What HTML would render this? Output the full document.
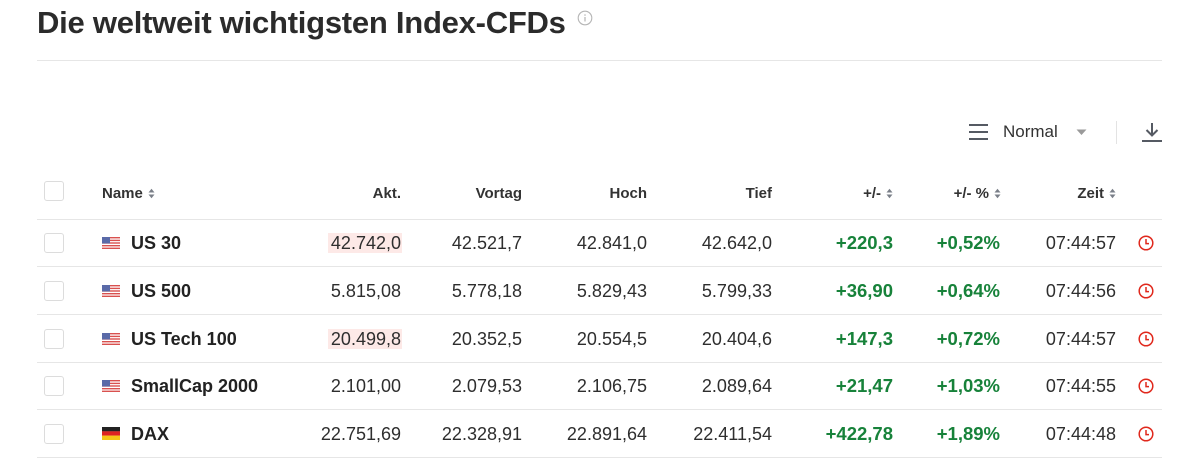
<!DOCTYPE html>
<html><head><meta charset="utf-8">
<style>
*{margin:0;padding:0;box-sizing:border-box}
html,body{width:1183px;height:459px;background:#fff;overflow:hidden;font-family:"Liberation Sans",Arial,sans-serif;color:#2a2a2a}
.a{position:absolute;white-space:nowrap}
.title{left:37px;top:5px;font-size:31px;font-weight:bold;color:#2b2b2b;letter-spacing:-0.25px;line-height:36px}
.hl{position:absolute;height:1px;background:#e6e6e6;left:37px;width:1125px}
.hdr{font-size:15px;font-weight:bold;color:#333;line-height:20px;height:20px;text-align:right}
.cell{font-size:18px;line-height:24px;height:24px;text-align:right;color:#2e2e2e}
.name{font-size:18px;font-weight:bold;line-height:24px;height:24px;left:131px;color:#222}
.g{color:#17823a;font-weight:bold;font-size:18.5px}
.cb{position:absolute;left:44px;width:20px;height:20px;border:1px solid #dcdcdc;border-radius:3px;background:#fff}
.pink{position:absolute;background:#fde9e7;height:20px}
.sort{display:inline-block;vertical-align:middle;margin-left:5px;width:7px;height:11px;position:relative;top:-1px}
</style></head><body>

<div class="a title">Die weltweit wichtigsten Index-CFDs</div>
<svg class="a" style="left:577px;top:10px" width="16" height="16" viewBox="0 0 16 16"><circle cx="8" cy="8" r="6.8" fill="none" stroke="#b5b5b5" stroke-width="1.1"/><rect x="7.4" y="7" width="1.2" height="4.5" fill="#b5b5b5"/><circle cx="8" cy="5" r="0.8" fill="#b5b5b5"/></svg>
<div class="hl" style="top:60px"></div>

<!-- toolbar -->
<svg class="a" style="left:968px;top:122px" width="21" height="20" viewBox="0 0 21 20"><rect x="1" y="2" width="19" height="2" fill="#555a63"/><rect x="1" y="9" width="19" height="2" fill="#555a63"/><rect x="1" y="16" width="19" height="2" fill="#555a63"/></svg>
<div class="a" style="left:1003px;top:120px;font-size:17px;line-height:24px;color:#333">Normal</div>
<svg class="a" style="left:1076px;top:129px" width="11" height="7" viewBox="0 0 11 7"><path d="M0.5 0.5 L10.5 0.5 L5.5 6 Z" fill="#9a9a9a"/></svg>
<div class="a" style="left:1116px;top:121px;width:1px;height:23px;background:#e3e3e3"></div>
<svg class="a" style="left:1141px;top:121px" width="22" height="22" viewBox="0 0 22 22"><path d="M11 2 V14 M5.5 9 L11 14.5 L16.5 9" fill="none" stroke="#555a63" stroke-width="2"/><rect x="1" y="19" width="20" height="2" fill="#555a63"/></svg>

<!-- header -->
<div class="cb" style="top:181px"></div>
<div class="a hdr" style="left:102px;top:184px;text-align:left">Name<svg class="sort" viewBox="0 0 7 11"><path d="M0.5 4.5 L3.5 0.8 L6.5 4.5Z M0.5 6.5 L3.5 10.2 L6.5 6.5Z" fill="#7a7f88"/></svg></div>
<div class="a hdr" style="right:782px;top:184px">Akt.</div>
<div class="a hdr" style="right:661px;top:184px">Vortag</div>
<div class="a hdr" style="right:536px;top:184px">Hoch</div>
<div class="a hdr" style="right:411px;top:184px">Tief</div>
<div class="a hdr" style="right:290px;top:184px">+/-<svg class="sort" viewBox="0 0 7 11"><path d="M0.5 4.5 L3.5 0.8 L6.5 4.5Z M0.5 6.5 L3.5 10.2 L6.5 6.5Z" fill="#7a7f88"/></svg></div>
<div class="a hdr" style="right:182px;top:184px">+/- %<svg class="sort" viewBox="0 0 7 11"><path d="M0.5 4.5 L3.5 0.8 L6.5 4.5Z M0.5 6.5 L3.5 10.2 L6.5 6.5Z" fill="#7a7f88"/></svg></div>
<div class="a hdr" style="right:67px;top:184px">Zeit<svg class="sort" viewBox="0 0 7 11"><path d="M0.5 4.5 L3.5 0.8 L6.5 4.5Z M0.5 6.5 L3.5 10.2 L6.5 6.5Z" fill="#7a7f88"/></svg></div>

<div class="hl" style="top:219px"></div>
<div class="hl" style="top:266px"></div>
<div class="hl" style="top:314px"></div>
<div class="hl" style="top:362px"></div>
<div class="hl" style="top:409px"></div>
<div class="hl" style="top:457px"></div>

<!-- highlights -->
<div class="pink" style="left:328px;top:233px;width:74px"></div>
<div class="pink" style="left:328px;top:329px;width:74px"></div>

<!-- flags -->
<svg width="0" height="0" style="position:absolute"><defs>
<g id="us"><rect width="18" height="12" fill="#fff"/><rect y="0" width="18" height="1.4" fill="#d9514f"/><rect y="2.7" width="18" height="1.4" fill="#d9514f"/><rect y="5.3" width="18" height="1.4" fill="#d9514f"/><rect y="8" width="18" height="1.4" fill="#d9514f"/><rect y="10.6" width="18" height="1.4" fill="#d9514f"/><rect width="8" height="6.5" fill="#5a6aa8"/></g>
<g id="clk"><circle cx="8" cy="8" r="6.8" fill="none" stroke="#e0281c" stroke-width="1.5"/><path d="M8 4 V8.6 H11" fill="none" stroke="#e0281c" stroke-width="1.5"/></g>
</defs></svg>

<!-- row1 center 243 -->
<div class="cb" style="top:233px"></div>
<svg class="a" style="left:102px;top:237px" width="18" height="12"><use href="#us"/></svg>
<div class="a name" style="top:231px">US 30</div>
<div class="a cell" style="right:782px;top:231px">42.742,0</div>
<div class="a cell" style="right:661px;top:231px">42.521,7</div>
<div class="a cell" style="right:536px;top:231px">42.841,0</div>
<div class="a cell" style="right:411px;top:231px">42.642,0</div>
<div class="a cell g" style="right:290px;top:231px">+220,3</div>
<div class="a cell g" style="right:183px;top:231px">+0,52%</div>
<div class="a cell" style="right:67px;top:231px">07:44:57</div>
<svg class="a" style="left:1138px;top:235px" width="16" height="16"><use href="#clk"/></svg>

<!-- row2 center 291 -->
<div class="cb" style="top:281px"></div>
<svg class="a" style="left:102px;top:285px" width="18" height="12"><use href="#us"/></svg>
<div class="a name" style="top:279px">US 500</div>
<div class="a cell" style="right:782px;top:279px">5.815,08</div>
<div class="a cell" style="right:661px;top:279px">5.778,18</div>
<div class="a cell" style="right:536px;top:279px">5.829,43</div>
<div class="a cell" style="right:411px;top:279px">5.799,33</div>
<div class="a cell g" style="right:290px;top:279px">+36,90</div>
<div class="a cell g" style="right:183px;top:279px">+0,64%</div>
<div class="a cell" style="right:67px;top:279px">07:44:56</div>
<svg class="a" style="left:1138px;top:283px" width="16" height="16"><use href="#clk"/></svg>

<!-- row3 center 339 -->
<div class="cb" style="top:329px"></div>
<svg class="a" style="left:102px;top:333px" width="18" height="12"><use href="#us"/></svg>
<div class="a name" style="top:327px">US Tech 100</div>
<div class="a cell" style="right:782px;top:327px">20.499,8</div>
<div class="a cell" style="right:661px;top:327px">20.352,5</div>
<div class="a cell" style="right:536px;top:327px">20.554,5</div>
<div class="a cell" style="right:411px;top:327px">20.404,6</div>
<div class="a cell g" style="right:290px;top:327px">+147,3</div>
<div class="a cell g" style="right:183px;top:327px">+0,72%</div>
<div class="a cell" style="right:67px;top:327px">07:44:57</div>
<svg class="a" style="left:1138px;top:331px" width="16" height="16"><use href="#clk"/></svg>

<!-- row4 center 386 -->
<div class="cb" style="top:376px"></div>
<svg class="a" style="left:102px;top:380px" width="18" height="12"><use href="#us"/></svg>
<div class="a name" style="top:374px">SmallCap 2000</div>
<div class="a cell" style="right:782px;top:374px">2.101,00</div>
<div class="a cell" style="right:661px;top:374px">2.079,53</div>
<div class="a cell" style="right:536px;top:374px">2.106,75</div>
<div class="a cell" style="right:411px;top:374px">2.089,64</div>
<div class="a cell g" style="right:290px;top:374px">+21,47</div>
<div class="a cell g" style="right:183px;top:374px">+1,03%</div>
<div class="a cell" style="right:67px;top:374px">07:44:55</div>
<svg class="a" style="left:1138px;top:378px" width="16" height="16"><use href="#clk"/></svg>

<!-- row5 center 434 -->
<div class="cb" style="top:424px"></div>
<svg class="a" style="left:102px;top:427px" width="18" height="13"><rect width="18" height="4.4" fill="#222"/><rect y="4.3" width="18" height="4.4" fill="#dd2222"/><rect y="8.6" width="18" height="4.4" fill="#f5c518"/></svg>
<div class="a name" style="top:422px">DAX</div>
<div class="a cell" style="right:782px;top:422px">22.751,69</div>
<div class="a cell" style="right:661px;top:422px">22.328,91</div>
<div class="a cell" style="right:536px;top:422px">22.891,64</div>
<div class="a cell" style="right:411px;top:422px">22.411,54</div>
<div class="a cell g" style="right:290px;top:422px">+422,78</div>
<div class="a cell g" style="right:183px;top:422px">+1,89%</div>
<div class="a cell" style="right:67px;top:422px">07:44:48</div>
<svg class="a" style="left:1138px;top:426px" width="16" height="16"><use href="#clk"/></svg>

</body></html>
